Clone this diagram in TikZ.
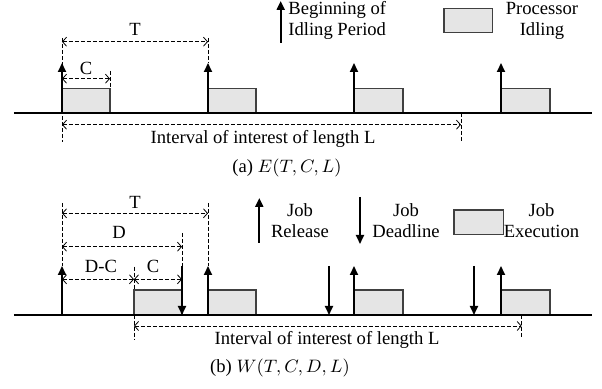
\documentclass[tikz,border=0pt]{standalone}
\usepackage{fontspec}
\setmainfont{Liberation Serif}
\usetikzlibrary{arrows.meta}

\begin{document}
\begin{tikzpicture}[x=0.5pt,y=-0.5pt,
    txt/.style={font=\fontsize{9.3pt}{10.5pt}\selectfont,inner sep=0pt},
    release/.style={line width=1pt,-{Triangle[length=4.5pt,width=4pt]}},
    busy/.style={draw=black!75,fill=black!10,line width=0.6pt},
    guide/.style={dash pattern=on 2pt off 1pt,line width=0.4pt},
    dimline/.style={guide,{Straight Barb[length=2pt,width=4.5pt]}-{Straight Barb[length=2pt,width=4.5pt]}},
    axis/.style={line width=0.8pt}]
          \useasboundingbox (0,0) rectangle (602,389);

          % (a) E(T,C,L)
          \draw[guide] (62,38) -- (62,142);
          \draw[guide] (208,38) -- (208,63);
          \draw[guide] (110,71) -- (110,89);
          \draw[guide] (461,113) -- (461,142);
          \draw[dimline] (62,41.7) -- node[txt,above=3pt] (tA) {T} (208,41.7);
          \draw[dimline] (62,78.7) -- node[txt,above=1.8pt] (cA) {C} (110,78.7);
          \draw[dimline] (62,124.7) -- (461,124.7);
          \node[txt,anchor=base] (intA) at (263,144) {Interval of interest of length L};

          \filldraw[busy] (62,88.7) rectangle (110,113);
          \filldraw[busy] (208,88.7) rectangle (256,113);
          \filldraw[busy] (354,88.7) rectangle (403,113);
          \filldraw[busy] (501,88.7) rectangle (550,113);
          \draw[axis] (14,113) -- (592,113);
          \draw[release] (62,113) -- (62,63);
          \draw[release] (208,113) -- (208,63);
          \draw[release] (354,113) -- (354,63);
          \draw[release] (501,113) -- (501,63);

          % legend, last line on the base
          \draw[release] (280.7,43) -- (280.7,1);
          \node[txt,anchor=base west,align=left] (begA) at (288,35.7) {Beginning of\\Idling Period};
          \filldraw[busy] (444,8.3) rectangle (492.7,32.3);
          \node[txt,anchor=base,align=center] (idleA) at (542,35.7) {Processor\\Idling};

          \node[txt,anchor=base] (capA) at (287,173) {(a) $E(T,C,L)$};

          % (b) W(T,C,D,L)
          \draw[guide] (62,203) -- (62,266);
          \draw[guide] (208,203) -- (208,266);
          \draw[guide] (182,233) -- (182,266);
          \draw[guide] (134,266.7) -- (134,340);
          \draw[guide] (521.7,315) -- (521.7,338);
          \draw[dimline] (62,213.3) -- node[txt,above=2pt] (tB) {T} (208,213.3);
          \draw[dimline] (62,246.7) -- node[txt,above=3.8pt,xshift=-1.5pt] (dB) {D} (182,246.7);
          \draw[dimline] (62,279.3) -- node[txt,above=3pt,xshift=1.5pt] (dcB) {D-C} (134,279.3);
          \draw[dimline] (134,279.3) -- node[txt,above=3pt,xshift=-2.5pt] (cB) {C} (182,279.3);
          \draw[dimline] (134,326) -- (521.7,326);
          \node[txt,anchor=base] (intB) at (327,345) {Interval of interest of length L};

          \filldraw[busy] (134,290) rectangle (182,315);
          \filldraw[busy] (208,290) rectangle (256,315);
          \filldraw[busy] (354,290) rectangle (403,315);
          \filldraw[busy] (501,290) rectangle (550,315);
          \draw[axis] (14,315) -- (592,315);
          \draw[release] (62,315) -- (62,266);
          \draw[release] (208,315) -- (208,266);
          \draw[release] (354,315) -- (354,266);
          \draw[release] (501,315) -- (501,266);
          \draw[release] (182,266) -- (182,315);
          \draw[release] (329,266) -- (329,315);
          \draw[release] (474,266) -- (474,315);

          \draw[release] (259.3,243) -- (259.3,198);
          \node[txt,anchor=base,align=center] (relB) at (300,237.7) {Job\\Release};
          \draw[release] (360,197) -- (360,244);
          \node[txt,anchor=base,align=center] (dlB) at (406,237.7) {Job\\Deadline};
          \filldraw[busy] (454,210) rectangle (503.3,234.3);
          \node[txt,anchor=base,align=center] (exB) at (541.5,237.7) {Job\\Execution};

          \node[txt,anchor=base] (capB) at (280,373) {(b) $W(T,C,D,L)$};

        \end{tikzpicture}
\end{document}
